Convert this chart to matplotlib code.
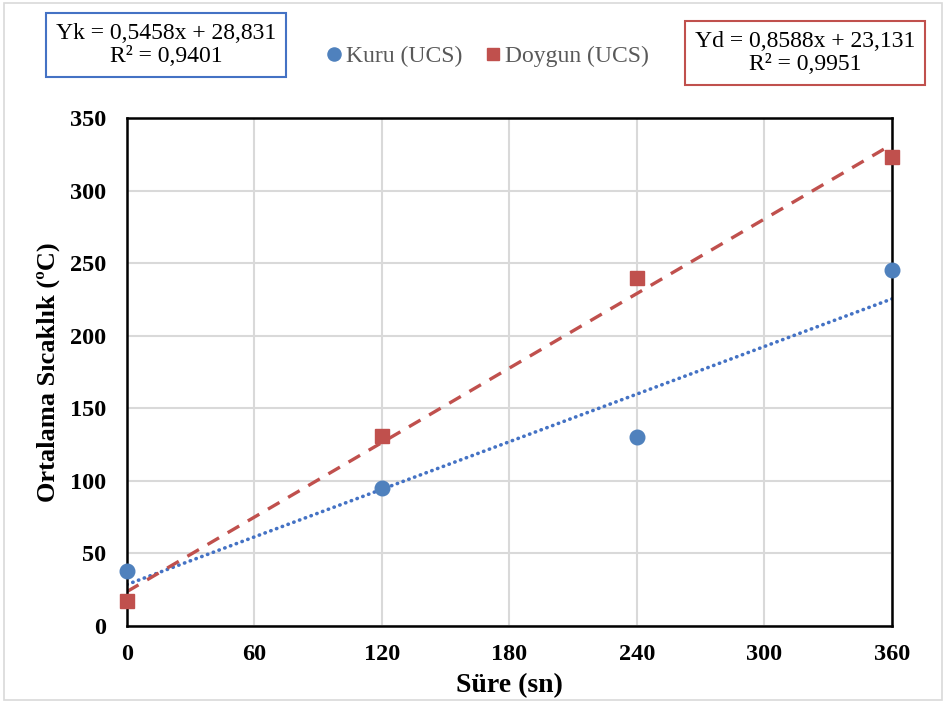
import matplotlib
matplotlib.use("Agg")
import matplotlib.pyplot as plt
from matplotlib.patches import Rectangle
import numpy as np

# data
sure = [0, 120, 240, 360]
kuru = [38, 95, 130, 245]
doygun = [17, 131, 240, 323]
x_ticks = [0, 60, 120, 180, 240, 300, 360]
y_ticks = [0, 50, 100, 150, 200, 250, 300, 350]

blue = "#4F81BD"
red = "#C0504D"

plt.rcParams["font.family"] = ["Liberation Serif", "DejaVu Serif"]

fig = plt.figure(figsize=(9.46, 7.04), dpi=100)
ax = fig.add_axes([0.1342, 0.1108, 0.8087, 0.7216])

# trendlines (linear fits)
xs = np.array([0, 360])
kk = np.polyfit(sure, kuru, 1)
kd = np.polyfit(sure, doygun, 1)
ax.plot(xs, np.polyval(kk, xs), color="#4472C4", lw=2.6, ls=(0, (0.1, 1.6)),
        dash_capstyle="round", zorder=2)
ax.plot(xs, np.polyval(kd, xs), color=red, lw=2.4, ls=(0, (4, 3)), zorder=2)

ax.plot(sure, kuru, "o", color=blue, ms=10.5, ls="none", label="Kuru (UCS)",
        zorder=4, clip_on=False)
ax.plot(sure, doygun, "s", color=red, ms=10, ls="none", label="Doygun (UCS)",
        zorder=4, clip_on=False)

ax.set_xlim(0, 360)
ax.set_ylim(0, 350)
ax.set_xticks(x_ticks)
ax.set_yticks(y_ticks)
ax.grid(True, color="#d9d9d9", lw=1.5)
ax.set_axisbelow(True)
for s in ax.spines.values():
    s.set_linewidth(1.8)
    s.set_color("black")
    s.set_zorder(3)
ax.tick_params(length=0, labelsize=17.5, pad=13)
ax.tick_params(axis="y", pad=15)
for lab in ax.get_xticklabels() + ax.get_yticklabels():
    lab.set_fontweight("bold")

ax.set_xlabel("Süre (sn)", fontsize=20, fontweight="bold", labelpad=6)
ax.set_ylabel("Ortalama Sıcaklık (ºC)", fontsize=19, fontweight="bold", labelpad=7)

leg = fig.legend(loc="center", bbox_to_anchor=(0.513, 0.92), ncol=2, frameon=False,
                 fontsize=17, handletextpad=0.0, columnspacing=0.8,
                 markerscale=0.9, handlelength=1.0)
for t in leg.get_texts():
    t.set_color("#595959")

fig.text(0.1755, 0.936, "Yk = 0,5458x + 28,831\nR² = 0,9401", ha="center", va="center",
         fontsize=17, linespacing=1.15,
         bbox=dict(boxstyle="square,pad=0.42", fc="white", ec="#4472C4", lw=1.5))
fig.text(0.851, 0.925, "Yd = 0,8588x + 23,131\nR² = 0,9951", ha="center", va="center",
         fontsize=17, linespacing=1.15,
         bbox=dict(boxstyle="square,pad=0.42", fc="white", ec=red, lw=1.5))

fig.patches.append(Rectangle((0.004, 0.006), 0.992, 0.99, transform=fig.transFigure,
                             fill=False, ec="#d9d9d9", lw=1.2))

fig.savefig("out.png", dpi=100)
